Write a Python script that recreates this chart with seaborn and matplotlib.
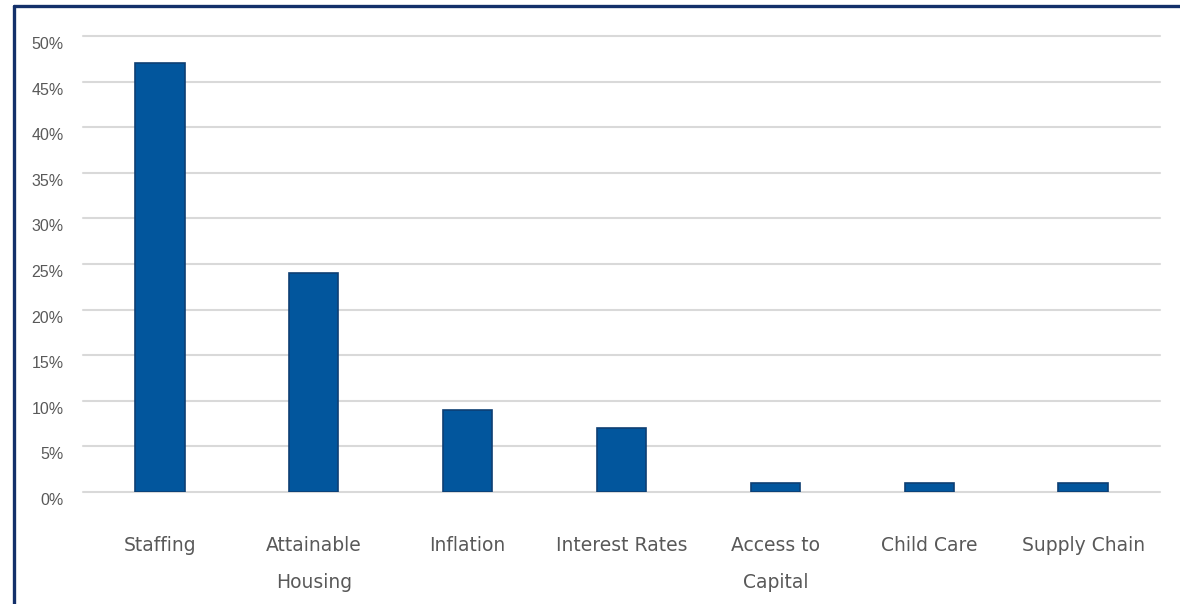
import matplotlib
matplotlib.use("Agg")
import matplotlib.pyplot as plt
import matplotlib.transforms as mtransforms
import seaborn as sns
import pandas as pd
from matplotlib.lines import Line2D

categories = ["Staffing", "Attainable\nHousing", "Inflation", "Interest Rates",
              "Access to\nCapital", "Child Care", "Supply Chain"]
values = [47, 24, 9, 7, 1, 1, 1]
ytick_values = [0, 5, 10, 15, 20, 25, 30, 35, 40, 45, 50]
ytick_labels = [f"{v}%" for v in ytick_values]

sns.set_style("white")
plt.rcParams['font.family'] = ['DejaVu Sans']

df = pd.DataFrame({"category": categories, "value": values})

fig = plt.figure(figsize=(11.8, 6.04), dpi=100)
ax = fig.add_axes([83/1180, 1 - 492/604, (1160-83)/1180, (492-36)/604])

sns.barplot(data=df, x="category", y="value", color="#02569D", width=0.32,
            edgecolor="#0E3F73", linewidth=1.2, saturation=1, ax=ax, zorder=3)

ax.set_ylim(0, 50)
ax.set_xlim(-0.5, len(categories) - 0.5)
ax.set_yticks(ytick_values)
ax.set_yticklabels(ytick_labels, fontfamily="Liberation Sans", fontsize=11.5, color="#595959")
ax.tick_params(axis="y", length=0, pad=14)
ax.tick_params(axis="x", length=0, pad=32)
offset = mtransforms.ScaledTranslation(0, -7/100, fig.dpi_scale_trans)
for lbl in ax.get_yticklabels():
    lbl.set_transform(lbl.get_transform() + offset)
for lbl in ax.get_xticklabels():
    lbl.set_fontsize(13.5)
    lbl.set_color("#595959")
    lbl.set_linespacing(2.2)
    lbl.set_verticalalignment("top")
ax.yaxis.grid(True, color="#D9D9D9", linewidth=1.5, zorder=0)
ax.xaxis.grid(False)
for gl in ax.get_ygridlines():
    gl.set_clip_on(False)
for s in ax.spines.values():
    s.set_visible(False)
ax.set_xlabel("")
ax.set_ylabel("")

# outer frame (left and top edges)
fig.add_artist(Line2D([13.5/1180, 13.5/1180], [0, 1 - 6/604], transform=fig.transFigure,
                      color="#14306A", linewidth=2.4))
fig.add_artist(Line2D([13.5/1180, 1], [1 - 6/604, 1 - 6/604], transform=fig.transFigure,
                      color="#14306A", linewidth=2.4))

fig.savefig("out.png", dpi=100)
